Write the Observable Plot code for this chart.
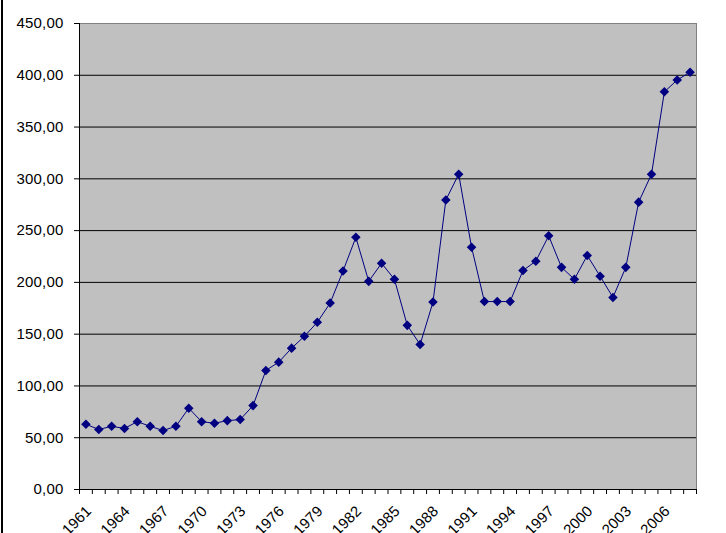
<!DOCTYPE html>
<html>
<head>
<meta charset="utf-8">
<script src="https://cdn.jsdelivr.net/npm/d3@7"></script>
<script src="https://cdn.jsdelivr.net/npm/@observablehq/plot@0.6"></script>
<style>
  html, body { margin: 0; padding: 0; background: #fff; }
  #wrap { position: relative; width: 726px; height: 533px; overflow: hidden; }
  #edge { position: absolute; left: 1px; top: 0; width: 1.5px; height: 533px; background: #000; }
</style>
</head>
<body>
<div id="wrap"><div id="edge"></div></div>
<script>
const years = [1961,1962,1963,1964,1965,1966,1967,1968,1969,1970,
  1971,1972,1973,1974,1975,1976,1977,1978,1979,1980,
  1981,1982,1983,1984,1985,1986,1987,1988,1989,1990,
  1991,1992,1993,1994,1995,1996,1997,1998,1999,2000,
  2001,2002,2003,2004,2005,2006,2007,2008];
const values = [63,58,61,59,65.5,61,57,61,78.5,65.5,
  64,66.5,67.5,81,115,123,136.5,148,161.5,180,
  211,243.5,201,218.5,203,158.5,140,181,279.5,304.5,
  234,181.5,181.5,181.5,211.5,220.5,245,214.5,203,226,
  206,185.5,214.5,277.5,304.5,384,395.5,403];
const xTickLabels = [1961,1964,1967,1970,1973,1976,1979,1982,1985,1988,1991,1994,1997,2000,2003,2006];
const yTicks = [0,50,100,150,200,250,300,350,400,450];

const data = years.map((year, i) => ({year, value: values[i]}));
const edges = years.map(y => y - 0.5).concat([years[years.length - 1] + 0.5]);
const fmt = d => d.toFixed(2).replace(".", ",");

const chart = Plot.plot({
  width: 726,
  height: 533,
  marginLeft: 79,
  marginRight: 30,
  marginTop: 23,
  marginBottom: 44,
  style: {fontFamily: "'Liberation Sans', Arial, sans-serif", fontSize: "15px", letterSpacing: "0.2px", background: "transparent", color: "#000"},
  x: {type: "linear", domain: [years[0] - 0.5, years[years.length - 1] + 0.5], label: null},
  y: {domain: [0, 450], label: null},
  marks: [
    Plot.frame({fill: "#C0C0C0", stroke: "#808080"}),
    Plot.gridY(yTicks.filter(v => v > 0 && v < 450), {stroke: "#000", strokeOpacity: 1}),
    Plot.axisY(yTicks, {tickSize: 5, tickPadding: 11, tickFormat: fmt, stroke: "#000", label: null}),
    Plot.axisX(edges, {tickSize: 5, tickFormat: () => "", stroke: "#000", label: null}),
    Plot.text(xTickLabels, {x: d => d, text: d => String(d), frameAnchor: "bottom", dy: 19, dx: 3, rotate: -45, textAnchor: "end", lineAnchor: "middle", fill: "#000", fontSize: 15}),
    Plot.ruleY([0], {stroke: "#000"}),
    Plot.frame({anchor: "left", stroke: "#000"}),
    Plot.line(data, {x: "year", y: "value", stroke: "#000080", strokeWidth: 1}),
    Plot.dot(data, {x: "year", y: "value", symbol: "diamond2", r: 4.3, fill: "#000080", stroke: "none"})
  ]
});
document.getElementById("wrap").appendChild(chart);
chart.style.position = "absolute";
chart.style.left = "0";
chart.style.top = "0";
</script>
</body>
</html>
